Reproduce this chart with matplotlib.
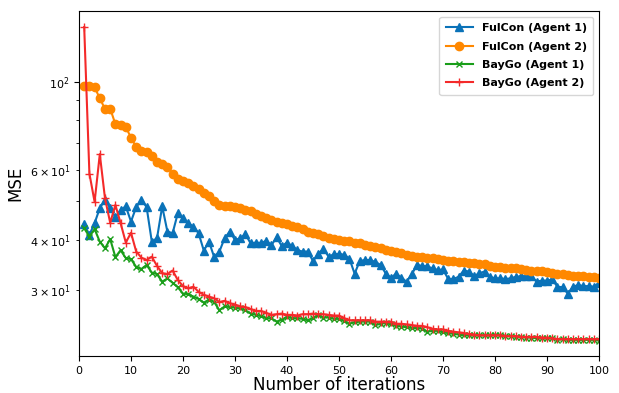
import matplotlib
matplotlib.use("Agg")
import matplotlib.pyplot as plt
import numpy as np

iterations = list(range(1, 101))

fulcon_agent1 = [43.8, 41.2, 44.1, 48.1, 50.5, 48.1, 45.6, 47.6, 48.6, 44.5,
                 48.4, 50.5, 48.4, 39.6, 40.4, 48.6, 42.0, 41.6, 46.7, 45.4,
                 44.1, 43.2, 41.6, 37.6, 39.6, 36.2, 37.4, 40.4, 42.0, 40.0,
                 40.4, 41.4, 39.2, 39.4, 39.3, 39.8, 38.8, 40.6, 38.6, 39.4,
                 38.6, 37.7, 37.4, 37.4, 35.4, 36.9, 38.0, 36.3, 36.8, 36.9,
                 36.7, 35.9, 32.9, 35.4, 35.6, 35.6, 35.2, 34.6, 32.9, 32.1,
                 32.9, 32.1, 31.4, 32.8, 34.6, 34.4, 34.3, 33.9, 33.6, 33.7,
                 31.9, 31.9, 32.3, 33.5, 33.3, 32.4, 33.0, 33.3, 32.3, 32.0,
                 32.0, 31.9, 32.0, 32.3, 32.4, 32.4, 32.4, 31.4, 31.6, 31.6,
                 31.8, 30.5, 30.4, 29.3, 30.5, 30.8, 30.6, 30.6, 30.5, 31.2]

fulcon_agent2 = [97.5, 98.0, 97.0, 91.0, 85.5, 85.7, 78.3, 77.8, 77.0, 72.4,
                 68.6, 67.0, 66.5, 65.1, 62.8, 62.2, 61.2, 58.8, 57.1, 56.3,
                 55.6, 54.7, 53.9, 52.6, 51.5, 50.0, 49.0, 48.8, 48.6, 48.4,
                 48.1, 47.6, 47.2, 46.6, 45.9, 45.4, 44.9, 44.5, 44.2, 43.8,
                 43.3, 43.0, 42.6, 42.0, 41.7, 41.3, 41.0, 40.4, 40.2, 39.9,
                 39.8, 39.7, 39.4, 39.2, 38.9, 38.6, 38.3, 38.1, 37.7, 37.5,
                 37.2, 37.0, 36.7, 36.4, 36.2, 36.2, 36.1, 36.0, 35.8, 35.6,
                 35.4, 35.3, 35.2, 35.1, 35.0, 34.9, 34.8, 34.7, 34.4, 34.2,
                 34.1, 34.0, 34.0, 33.9, 33.8, 33.6, 33.5, 33.5, 33.4, 33.3,
                 33.1, 32.9, 32.8, 32.6, 32.5, 32.5, 32.4, 32.3, 32.2, 32.0]

baygo_agent1 = [42.8, 40.8, 42.6, 39.6, 38.1, 40.2, 36.2, 37.7, 36.0, 35.8,
                34.2, 33.8, 34.6, 33.1, 32.8, 31.4, 32.0, 31.2, 30.4, 29.3,
                29.2, 28.8, 28.4, 27.8, 28.3, 27.9, 26.6, 27.2, 27.1, 27.0,
                26.9, 26.6, 26.1, 25.9, 25.7, 25.4, 25.4, 24.9, 25.2, 25.6,
                25.4, 25.4, 25.3, 25.1, 25.4, 25.9, 25.5, 25.5, 25.3, 25.3,
                25.0, 24.6, 24.8, 24.9, 24.9, 24.9, 24.4, 24.6, 24.7, 24.5,
                24.3, 24.2, 24.1, 24.0, 24.0, 23.9, 23.5, 23.6, 23.6, 23.4,
                23.3, 23.2, 23.1, 23.0, 23.0, 23.0, 23.0, 23.0, 23.0, 23.1,
                23.0, 22.9, 22.9, 22.8, 22.8, 22.7, 22.7, 22.6, 22.6, 22.6,
                22.6, 22.4, 22.5, 22.4, 22.4, 22.4, 22.4, 22.4, 22.4, 22.3]

baygo_agent2 = [137.6, 58.8, 49.9, 65.8, 50.9, 44.2, 49.0, 44.1, 39.4, 41.7,
                37.4, 36.1, 35.6, 36.3, 34.4, 33.0, 32.8, 33.5, 31.7, 30.6,
                30.2, 30.5, 29.6, 29.1, 28.8, 28.5, 27.9, 28.1, 27.7, 27.5,
                27.2, 27.1, 26.8, 26.5, 26.5, 26.2, 25.9, 26.0, 26.1, 25.9,
                25.9, 25.8, 26.0, 26.0, 26.1, 26.0, 26.0, 25.9, 25.8, 25.8,
                25.4, 25.1, 25.1, 25.1, 25.1, 25.1, 24.9, 24.9, 24.9, 24.9,
                24.6, 24.6, 24.5, 24.4, 24.3, 24.3, 24.1, 23.9, 23.8, 23.8,
                23.6, 23.5, 23.4, 23.3, 23.2, 23.1, 23.0, 23.0, 23.0, 23.0,
                23.0, 22.9, 22.9, 22.9, 22.8, 22.8, 22.8, 22.8, 22.7, 22.7,
                22.6, 22.5, 22.5, 22.5, 22.5, 22.5, 22.5, 22.5, 22.5, 22.5]

labels = ["FulCon (Agent 1)", "FulCon (Agent 2)", "BayGo (Agent 1)", "BayGo (Agent 2)"]

fig = plt.figure(figsize=(6.19, 3.93), dpi=100)
ax = fig.add_axes([79 / 619, 1 - 356 / 393, 520 / 619, 345 / 393])

ax.plot(iterations, fulcon_agent1, color="#0a72b8", marker="^", markersize=6, lw=1.5, label=labels[0])
ax.plot(iterations, fulcon_agent2, color="#ff8800", marker="o", markersize=6, lw=1.5, label=labels[1])
ax.plot(iterations, baygo_agent1, color="#1a9e1a", marker="x", markersize=5, lw=1.5, label=labels[2])
ax.plot(iterations, baygo_agent2, color="#f42a2a", marker="+", markersize=6, lw=1.5, label=labels[3])

ax.set_yscale("log")
ax.set_xlim(0, 100)
ax.set_ylim(20.4, 151)
ax.set_xticks(range(0, 101, 10))
ax.tick_params(axis="both", which="both", labelsize=8)
ax.set_xlabel("Number of iterations", fontsize=12, labelpad=0)
ax.set_ylabel("MSE", fontsize=12)
ax.legend(loc="upper right", prop={"weight": "bold", "size": 8},
          handlelength=2.4, labelspacing=0.75, borderpad=0.6)

fig.savefig("out.png", dpi=100)
